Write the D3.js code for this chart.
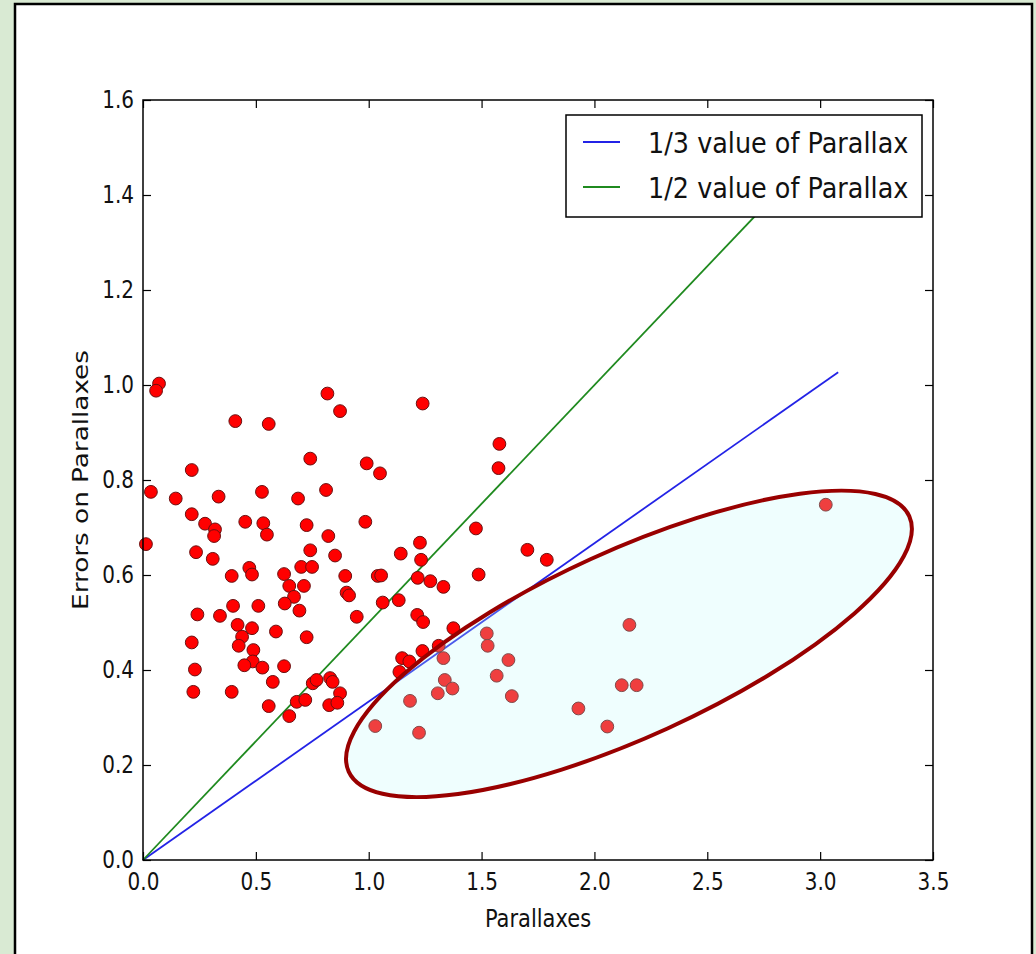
<!DOCTYPE html>
<html>
<head>
<meta charset="utf-8">
<script src="https://cdn.jsdelivr.net/npm/d3@7"></script>
<style>
  body { margin: 0; background: #d9ead3; }
  svg { display: block; }
  text { font-family: "DejaVu Sans", sans-serif; fill: #111; }
</style>
</head>
<body>
<svg id="chart" width="1036" height="954"></svg>
<script>
// parallax (x) and its error (y) for each star
const parallaxes = [
    0.071, 0.058, 0.817, 0.873, 0.409, 0.557, 0.741, 0.991, 1.050, 0.216,
    0.035, 0.145, 0.335, 0.527, 0.687, 0.811, 0.216, 0.275, 0.319, 0.315,
    0.453, 0.533, 0.549, 0.725, 0.985, 0.821, 0.013, 0.235, 0.309, 0.741,
    0.851, 0.393, 0.471, 0.483, 0.625, 0.701, 0.749, 0.648, 0.713, 0.669,
    0.896, 1.040, 0.902, 0.913, 0.628, 0.693, 0.241, 0.341, 0.399, 0.511,
    0.947, 0.419, 0.483, 0.439, 0.424, 0.589, 0.725, 0.216, 0.489, 0.486,
    0.449, 0.529, 0.625, 0.230, 0.575, 0.223, 0.393, 0.557, 0.752, 0.769,
    0.829, 0.840, 0.681, 0.719, 0.873, 0.825, 0.861, 0.648,
    1.579, 1.575, 1.239, 1.475, 1.227, 1.142, 1.232, 1.703, 1.789, 1.055,
    1.217, 1.273, 1.331, 1.487, 1.062, 1.133, 1.215, 1.241, 1.375, 1.238,
    1.310, 1.148, 1.180, 1.136, 1.523, 1.527, 1.331, 1.619, 1.567, 1.337,
    1.371, 1.306, 1.634, 1.183, 1.029, 1.223, 1.929, 2.155, 2.121, 2.187,
    2.057, 3.025
];
const errors = [
    1.003, 0.988, 0.982, 0.945, 0.924, 0.918, 0.845, 0.835, 0.814, 0.821,
    0.775, 0.761, 0.765, 0.775, 0.761, 0.779, 0.728, 0.708, 0.696, 0.682,
    0.712, 0.709, 0.685, 0.705, 0.712, 0.682, 0.665, 0.648, 0.634, 0.652,
    0.641, 0.598, 0.615, 0.601, 0.602, 0.617, 0.617, 0.577, 0.577, 0.554,
    0.598, 0.598, 0.563, 0.557, 0.540, 0.525, 0.517, 0.514, 0.535, 0.535,
    0.512, 0.495, 0.488, 0.470, 0.451, 0.481, 0.469, 0.458, 0.442, 0.418,
    0.410, 0.405, 0.408, 0.401, 0.375, 0.354, 0.354, 0.324, 0.372, 0.379,
    0.383, 0.375, 0.333, 0.337, 0.351, 0.326, 0.331, 0.303,
    0.876, 0.825, 0.961, 0.698, 0.668, 0.645, 0.632, 0.653, 0.632, 0.599,
    0.594, 0.587, 0.575, 0.601, 0.542, 0.547, 0.516, 0.501, 0.488, 0.440,
    0.451, 0.425, 0.418, 0.396, 0.477, 0.451, 0.425, 0.421, 0.388, 0.379,
    0.361, 0.351, 0.345, 0.335, 0.282, 0.268, 0.319, 0.495, 0.368, 0.368,
    0.281, 0.748
];

// reference lines
const lineX = [0, 3.08];
const thirdY = [0, 1.027];
const halfY = [0, 1.54];
const legendLabels = ['1/3 value of Parallax', '1/2 value of Parallax'];

const xTicks = [0, 0.5, 1, 1.5, 2, 2.5, 3, 3.5];
const yTicks = [0, 0.2, 0.4, 0.6, 0.8, 1.0, 1.2, 1.4, 1.6];

// highlighted region (centre in data units)
const ringCenter = [2.153, 0.455];

const svg = d3.select('#chart');

// white card
svg.append('rect')
    .attr('x', 15).attr('y', 4).attr('width', 1017).attr('height', 990)
    .attr('fill', '#fff').attr('stroke', '#000').attr('stroke-width', 2.5);

const x = d3.scaleLinear().domain([0, 3.5]).range([143, 933]);
const y = d3.scaleLinear().domain([0, 1.6]).range([860, 100]);
const fmt = d3.format('.1f');
const stretch = 'scale(1,1.2)';
const blue = '#2323e6', green = '#1f8a1f';

const line = d3.line().x(d => x(d[0])).y(d => y(d[1]));
svg.append('path')
    .attr('d', line(d3.zip(lineX, thirdY)))
    .attr('fill', 'none').attr('stroke', blue).attr('stroke-width', 1.8);
svg.append('path')
    .attr('d', line(d3.zip(lineX, halfY)))
    .attr('fill', 'none').attr('stroke', green).attr('stroke-width', 1.8);

svg.append('g')
    .selectAll('circle').data(d3.zip(parallaxes, errors))
    .join('circle')
    .attr('cx', d => x(d[0]))
    .attr('cy', d => y(d[1]))
    .attr('r', 6.4)
    .attr('fill', '#ff0000')
    .attr('stroke', '#6a1010')
    .attr('stroke-width', 1);

// ellipse drawn over the points so they look tinted
svg.append('ellipse')
    .attr('transform', `translate(${x(ringCenter[0])},${y(ringCenter[1])}) rotate(-24.5)`)
    .attr('rx', 308).attr('ry', 93)
    .attr('fill', 'rgb(190,250,250)').attr('fill-opacity', 0.25)
    .attr('stroke', '#990000').attr('stroke-width', 4);

// axes, ticks pointing inward on all four sides
const gx = svg.append('g')
    .attr('transform', `translate(0,${y(0)})`)
    .call(d3.axisBottom(x).tickValues(xTicks).tickFormat(fmt).tickSize(-8).tickSizeOuter(0).tickPadding(11));
gx.selectAll('text').attr('font-size', 20).attr('transform', stretch);
svg.append('g')
    .attr('transform', `translate(0,${y(1.6)})`)
    .call(d3.axisTop(x).tickValues(xTicks).tickFormat('').tickSize(-8).tickSizeOuter(0));
const gy = svg.append('g')
    .attr('transform', `translate(${x(0)},0)`)
    .call(d3.axisLeft(y).tickValues(yTicks).tickFormat(fmt).tickSize(-8).tickSizeOuter(0).tickPadding(9));
gy.selectAll('text').attr('font-size', 20).attr('transform', stretch);
svg.append('g')
    .attr('transform', `translate(${x(3.5)},0)`)
    .call(d3.axisRight(y).tickValues(yTicks).tickFormat('').tickSize(-8).tickSizeOuter(0));
svg.selectAll('.domain').remove();
svg.selectAll('.tick line').attr('stroke', '#000').attr('stroke-width', 1.2);

svg.append('rect')
    .attr('x', x(0)).attr('y', y(1.6))
    .attr('width', x(3.5) - x(0)).attr('height', y(0) - y(1.6))
    .attr('fill', 'none').attr('stroke', '#000').attr('stroke-width', 1.5);

svg.append('text')
    .attr('transform', 'translate(538,927) scale(1,1.2)')
    .attr('text-anchor', 'middle').attr('font-size', 21)
    .text('Parallaxes');
svg.append('text')
    .attr('transform', 'translate(88,480) rotate(-90) scale(1.25,1)')
    .attr('text-anchor', 'middle').attr('font-size', 21)
    .text('Errors on Parallaxes');

// legend
const legend = svg.append('g');
legend.append('rect')
    .attr('x', 566).attr('y', 115).attr('width', 356).attr('height', 102)
    .attr('fill', '#fff').attr('stroke', '#000').attr('stroke-width', 1.5);
const legendColors = [blue, green];
legendLabels.forEach((lab, i) => {
    const ly = 142 + i * 45;
    legend.append('line')
        .attr('x1', 583).attr('x2', 620).attr('y1', ly).attr('y2', ly)
        .attr('stroke', legendColors[i]).attr('stroke-width', 1.8);
    legend.append('text')
        .attr('transform', `translate(648,${ly + 11}) scale(1,1.12)`)
        .attr('font-size', 25.5)
        .text(lab);
});
</script>
</body>
</html>
